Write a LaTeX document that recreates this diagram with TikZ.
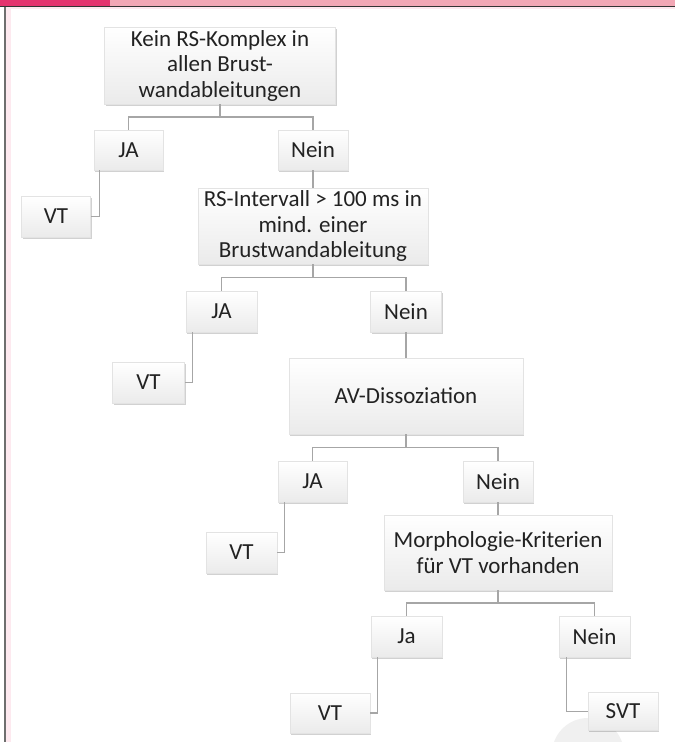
\documentclass[tikz,border=0pt]{standalone}
\usepackage{fontspec}
\setmainfont{Carlito}
\usetikzlibrary{shadows,calc}

\definecolor{barDark}{HTML}{E4336E}
\definecolor{barLight}{HTML}{F2A7B5}
\definecolor{stripPink}{HTML}{FDE9EF}
\definecolor{frameGray}{HTML}{6E6E6E}
\definecolor{linkGray}{HTML}{A6A6A6}
\definecolor{boxEdge}{HTML}{E3E3E3}
\definecolor{txt}{HTML}{222222}

\tikzset{
  card/.style={draw=boxEdge, line width=0.5pt, top color=white, bottom color=black!8,
    text=txt, align=center, inner sep=2pt,
    font=\fontsize{23}{25.5}\selectfont,
    drop shadow={shadow xshift=1.2pt, shadow yshift=-1.8pt, fill=black, opacity=0.18}},
  link/.style={draw=linkGray, line width=1.3pt}
}

\begin{document}
\begin{tikzpicture}[x=1pt,y=-1pt]
\useasboundingbox (0,0) rectangle (675,742);
\fill[white] (0,0) rectangle (675,742);

% header bar and left frame
\fill[barDark] (0,0) rectangle (110,6);
\fill[barLight] (110,0) rectangle (675,6);
\fill[black!80] (0,6) rectangle (675,7.4);
\fill[stripPink] (11,7.4) rectangle (675,9.4);
\fill[frameGray] (4,7.4) rectangle (6,742);
\fill[stripPink] (6,7.4) rectangle (11,742);

% faint disc behind the last result
\fill[black!6] (588,754) circle (36);

% decision boxes
\node[card, minimum width=231pt, minimum height=77pt] (b1) at (220,65.5)
  {Kein RS-Komplex in\\allen Brust-\\wandableitungen};
\node[card, minimum width=69pt, minimum height=40pt] (ja1) at (128.5,150) {JA};
\node[card, minimum width=70pt, minimum height=40pt] (ne1) at (313,150) {Nein};
\node[card, minimum width=69pt, minimum height=41pt] (vt1) at (56,216.5) {VT};

\node[card, minimum width=230pt, minimum height=76pt] (rs) at (313,226)
  {RS-Intervall > 100 ms in\\mind. einer\\Brustwandableitung};
\node[card, minimum width=71pt, minimum height=41pt] (ja2) at (221.5,311.5) {JA};
\node[card, minimum width=71pt, minimum height=41pt] (ne2) at (406,311.5) {Nein};
\node[card, minimum width=72pt, minimum height=41pt] (vt2) at (148.5,382.5) {VT};

\node[card, minimum width=234pt, minimum height=76pt] (av) at (406,396) {AV-Dissoziation};
\node[card, minimum width=69pt, minimum height=41pt] (ja3) at (312.5,481.5) {JA};
\node[card, minimum width=70pt, minimum height=41pt] (ne3) at (498,481.5) {Nein};
\node[card, minimum width=71pt, minimum height=41pt] (vt3) at (241.5,552.5) {VT};

\node[card, minimum width=228pt, minimum height=75pt] (mo) at (498,552.5)
  {Morphologie-Kriterien\\für VT vorhanden};
\node[card, minimum width=71pt, minimum height=41pt] (ja4) at (406.5,636.5) {Ja};
\node[card, minimum width=71pt, minimum height=41pt] (ne4) at (594.5,636.5) {Nein};
\node[card, minimum width=80pt, minimum height=40pt] (vt4) at (330,713) {VT};
\node[card, minimum width=70pt, minimum height=38pt] (svt) at (623,711.5) {SVT};

% connectors
\coordinate (s1) at ($(b1.south)!.5!(b1.south|-ja1.north)$);
\draw[link] (b1.south) -- (s1) -| (ja1.north);
\draw[link] (s1) -| (ne1.north);
\draw[link] ([xshift=6pt]ja1.south west) |- (vt1.east);
\draw[link] (ne1.south) -- (ne1.south|-rs.north);

\coordinate (s2) at ($(rs.south)!.5!(rs.south|-ja2.north)$);
\draw[link] (rs.south) -- (s2) -| (ja2.north);
\draw[link] (s2) -| (ne2.north);
\draw[link] ([xshift=7pt]ja2.south west) |- (vt2.east);
\draw[link] (ne2.south) -- (ne2.south|-av.north);

\coordinate (s3) at ($(av.south)!.5!(av.south|-ja3.north)$);
\draw[link] (av.south) -- (s3) -| (ja3.north);
\draw[link] (s3) -| (ne3.north);
\draw[link] ([xshift=7pt]ja3.south west) |- (vt3.east);
\draw[link] (ne3.south) -- (ne3.south|-mo.north);

\coordinate (s4) at ($(mo.south)!.5!(mo.south|-ja4.north)$);
\draw[link] (mo.south) -- (s4) -| (ja4.north);
\draw[link] (s4) -| (ne4.north);
\draw[link] ([xshift=7pt]ja4.south west) |- (vt4.east);
\draw[link] ([xshift=8pt]ne4.south west) |- (svt.west);
\end{tikzpicture}
\end{document}
